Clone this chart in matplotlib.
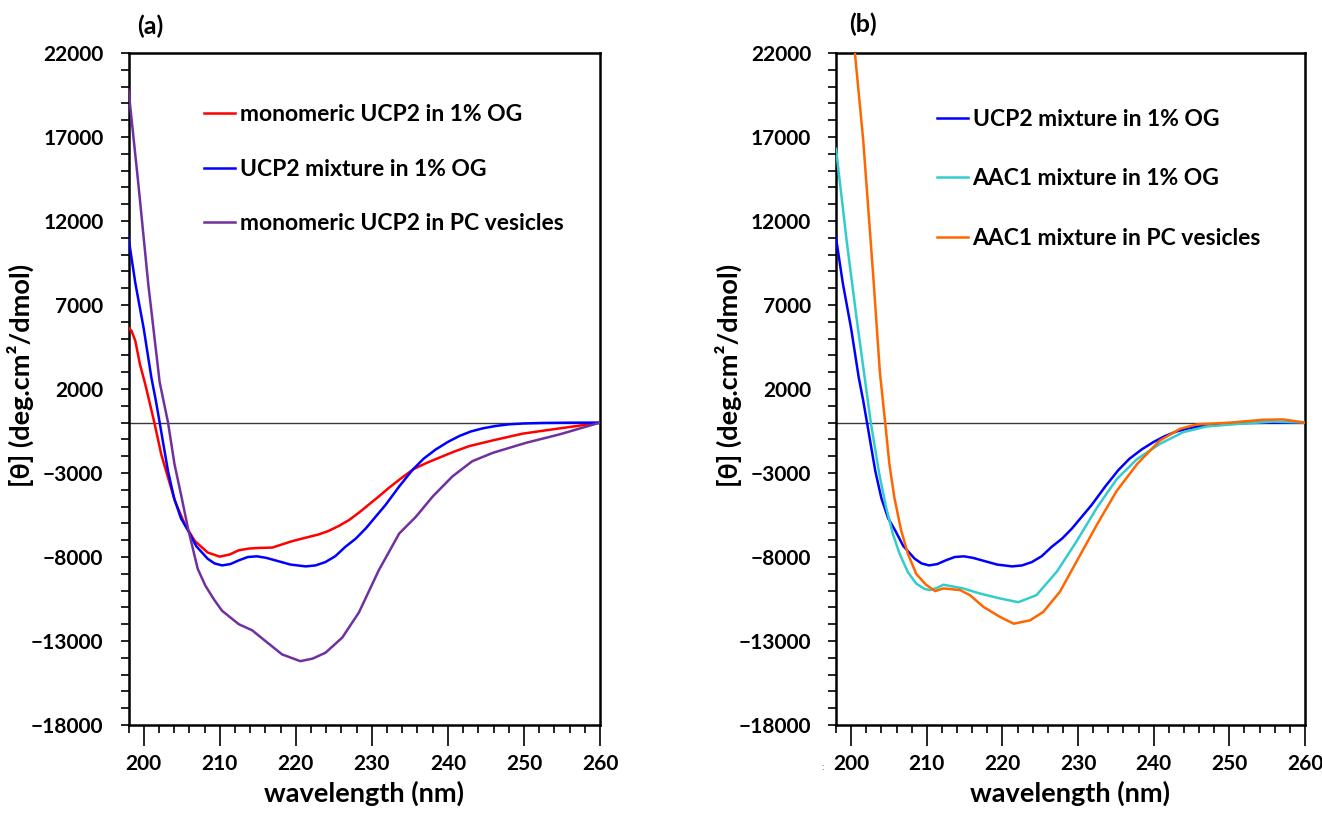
import matplotlib
matplotlib.use("Agg")
import matplotlib.pyplot as plt
from matplotlib.ticker import MultipleLocator, FixedLocator

plt.rcParams['font.family'] = ['Lato', 'DejaVu Sans']
plt.rcParams['font.weight'] = 'bold'

# ---------------- data ----------------
# monomeric UCP2 in 1% OG (red)
red_nm = [198.0, 198.4, 198.9, 199.5, 200.2, 200.8, 201.4, 202.3, 203.2, 204.1, 205.4, 206.7,
          208.4, 210.0, 211.3, 212.5, 213.8, 215.1, 216.9, 218.2, 219.5, 221.3, 223.0, 224.3,
          225.7, 227.0, 228.3, 229.6, 230.9, 232.2, 233.6, 235.5, 237.2, 238.8, 240.8, 242.8, 245.9,
          249.8, 253.8, 257.0, 260.0]
red_val = [5650, 5460, 4860, 3480, 2290, 1150, 0, -1880, -3270, -4660, -6050, -7040,
           -7730, -7980, -7850, -7600, -7500, -7460, -7440, -7250, -7060, -6850, -6660, -6450,
           -6140, -5800, -5360, -4880, -4400, -3900, -3400, -2760, -2400, -2100, -1730, -1400, -1060,
           -660, -400, -200, 0]

# UCP2 mixture in 1% OG (blue) - shown in both panels
blue_nm = [198.0, 198.9, 200.0, 201.0, 201.6, 202.1, 203.2, 204.0, 204.9, 205.8, 206.9, 208.4, 209.3,
           210.3, 211.4, 212.5, 213.7, 214.9, 216.1, 217.3, 219.3, 221.3, 222.6, 223.9, 225.2, 226.5,
           227.9, 229.2, 230.5, 231.8, 233.6, 235.3, 236.8, 238.4, 240.0, 241.5, 243.0, 244.6, 246.3,
           248.1, 250.0, 252.5, 256.0, 260.0]
blue_val = [11000, 8300, 5600, 2700, 1300, 0, -2900, -4500, -5700, -6400, -7350, -8100, -8380,
            -8500, -8420, -8200, -8000, -7960, -8050, -8200, -8450, -8560, -8500, -8300, -7950, -7400,
            -6900, -6300, -5600, -4900, -3800, -2840, -2150, -1600, -1150, -800, -530, -340, -200,
            -100, -50, -20, -5, 0]

# monomeric UCP2 in PC vesicles (purple)
purple_nm = [198.0, 199.3, 200.6, 202.1, 203.2, 204.05, 204.9, 205.8, 207.1, 208.1, 209.2, 210.3,
             212.5, 214.25, 216.0, 218.2, 220.6, 222.2, 223.9, 226.1, 228.3, 230.9, 233.6, 235.8,
             238.0, 240.6, 243.2, 245.9, 250.3, 254.7, 260.0]
purple_val = [19800, 14190, 8240, 2400, 0, -2480, -4270, -6250, -8700, -9700, -10500, -11200,
              -12000, -12360, -13000, -13800, -14200, -14050, -13700, -12800, -11300, -8800, -6600,
              -5600, -4400, -3200, -2300, -1800, -1200, -700, 0]

# AAC1 mixture in 1% OG (cyan)
cyan_nm = [198.0, 199.4, 200.7, 201.6, 202.6, 203.7, 204.6, 205.5, 206.4, 207.5, 208.6, 209.7,
           210.4, 211.3, 212.2, 214.8, 217.0, 219.7, 222.1, 224.5, 227.2, 229.8, 232.5, 235.1,
           237.8, 240.8, 243.9, 247.0, 251.4, 255.8, 260.0]
cyan_val = [16300, 10850, 6290, 3310, 0, -3000, -5000, -6600, -7800, -8900, -9580, -9900,
            -9970, -9850, -9650, -9870, -10170, -10470, -10690, -10270, -8870, -7070, -5060, -3370,
            -2170, -1270, -570, -230, -70, 60, 0]

# AAC1 mixture in PC vesicles (orange)
orange_nm = [200.5, 201.6, 202.9, 203.8, 204.5, 205.05, 205.7, 206.6, 207.5, 208.6, 209.9, 211.1,
             212.2, 214.4, 215.7, 217.5, 219.7, 221.5, 223.65, 225.4, 227.6, 229.8, 232.5, 235.1,
             237.8, 240.8, 243.5, 245.7, 250.1, 254.5, 257.1, 260.0]
orange_val = [22000, 16800, 8870, 3000, 0, -2440, -4420, -6400, -7800, -9000, -9650, -10030,
              -9870, -9970, -10270, -10970, -11570, -11970, -11770, -11270, -10070, -8270, -6070,
              -4070, -2470, -1070, -370, -110, 0, 170, 190, 0]

labels_a = ["monomeric UCP2 in 1% OG", "UCP2 mixture in 1% OG", "monomeric UCP2 in PC vesicles"]
labels_b = ["UCP2 mixture in 1% OG", "AAC1 mixture in 1% OG", "AAC1 mixture in PC vesicles"]
colors_a = ["#FF0000", "#0000FF", "#7030A0"]
colors_b = ["#0000FF", "#33CCCC", "#FF6600"]

ytick_vals = [-18000, -13000, -8000, -3000, 2000, 7000, 12000, 17000, 22000]
xtick_vals = [200, 210, 220, 230, 240, 250, 260]

# ---------------- figure ----------------
W, H = 1322, 814
fig = plt.figure(figsize=(W / 100, H / 100), dpi=100)
bottom = (H - 725) / H
height = 672 / H
ax1 = fig.add_axes([128.5 / W, bottom, 471.5 / W, height])
ax2 = fig.add_axes([836 / W, bottom, 469 / W, height])

FS_TICK = 15
FS_LAB = 19.5
FS_LEG = 16.5

def style(ax):
    ax.set_xlim(198, 260)
    ax.set_ylim(-18000, 22000)
    ax.axhline(0, color='#3a3a3a', lw=1.0, zorder=1)
    ax.yaxis.set_major_locator(FixedLocator(ytick_vals))
    ax.yaxis.set_minor_locator(MultipleLocator(1000))
    ax.xaxis.set_major_locator(FixedLocator(xtick_vals))
    ax.xaxis.set_minor_locator(MultipleLocator(2))
    ax.tick_params(axis='y', which='both', direction='out', length=6, width=1.2, pad=12,
                   labelsize=FS_TICK)
    ax.tick_params(axis='x', which='major', direction='out', length=15, width=1.2, pad=6,
                   labelsize=FS_TICK)
    ax.tick_params(axis='x', which='minor', direction='out', length=6, width=1.2)
    for lab in ax.get_xticklabels() + ax.get_yticklabels():
        lab.set_fontweight('bold')
    for s in ax.spines.values():
        s.set_linewidth(1.8)
        s.set_color('black')
    ax.set_xlabel("wavelength (nm)", fontsize=FS_LAB, fontweight='bold', labelpad=5)
    ax.set_ylabel("[θ] (deg.cm²/dmol)", fontsize=FS_LAB, fontweight='bold')

style(ax1)
style(ax2)

ax1.plot(red_nm, red_val, color=colors_a[0], lw=1.8, label=labels_a[0], zorder=3)
ax1.plot(blue_nm, blue_val, color=colors_a[1], lw=1.8, label=labels_a[1], zorder=3)
ax1.plot(purple_nm, purple_val, color=colors_a[2], lw=1.8, label=labels_a[2], zorder=3)

ax2.plot(blue_nm, blue_val, color=colors_b[0], lw=1.8, label=labels_b[0], zorder=3)
ax2.plot(cyan_nm, cyan_val, color=colors_b[1], lw=1.8, label=labels_b[1], zorder=3)
ax2.plot(orange_nm, orange_val, color=colors_b[2], lw=1.8, label=labels_b[2], zorder=3)

for ax in (ax1, ax2):
    ax.yaxis.set_label_coords(-0.2, 0.52)

def add_legend(ax, x_px, y_px, spacing):
    leg = ax.legend(loc='upper left', bbox_to_anchor=(x_px / W, 1 - y_px / H),
                    bbox_transform=fig.transFigure, frameon=False,
                    handlelength=1.35, handletextpad=0.2, borderpad=0, borderaxespad=0,
                    labelspacing=spacing, prop={'weight': 'bold', 'size': FS_LEG})
    return leg

add_legend(ax1, 204, 104, 1.47)
add_legend(ax2, 937, 109, 1.67)

fig.text(150 / W, 1 - 26 / H, "(a)", fontsize=18, fontweight='bold', ha='center', va='center')
fig.text(863 / W, 1 - 24 / H, "(b)", fontsize=18, fontweight='bold', ha='center', va='center')
fig.text(823 / W, 1 - 768 / H, ":", fontsize=7, color='#888888', ha='center', va='center')

fig.savefig("out.png", dpi=100)
